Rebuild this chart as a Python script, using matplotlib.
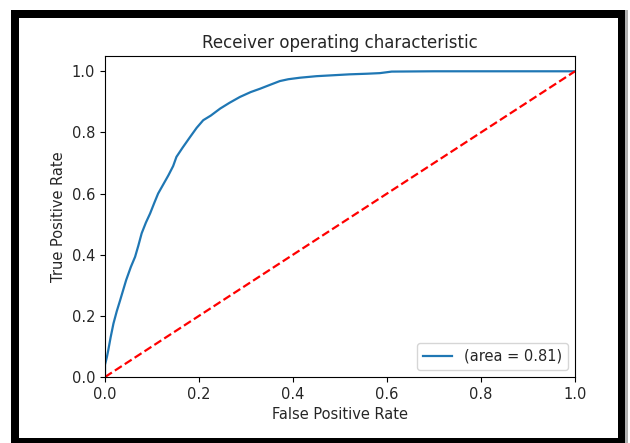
import matplotlib
matplotlib.use("Agg")
import matplotlib.pyplot as plt
from matplotlib.patches import Rectangle

# ROC curve points
fpr = [0.0, 0.0, 0.004, 0.007, 0.012, 0.018, 0.025, 0.032, 0.045, 0.055,
       0.064, 0.071, 0.078, 0.087, 0.096, 0.105, 0.113, 0.124, 0.135,
       0.145, 0.152, 0.165, 0.181, 0.195, 0.209, 0.225, 0.245, 0.265,
       0.287, 0.31, 0.33, 0.35, 0.372, 0.39, 0.415, 0.45, 0.485, 0.52,
       0.557, 0.585, 0.61, 0.7, 0.8, 0.9, 1.0]
tpr = [0.0, 0.04, 0.065, 0.088, 0.13, 0.175, 0.215, 0.25, 0.317, 0.36,
       0.393, 0.43, 0.47, 0.505, 0.535, 0.57, 0.60, 0.63, 0.66,
       0.69, 0.72, 0.75, 0.785, 0.815, 0.84, 0.855, 0.878, 0.897,
       0.916, 0.932, 0.943, 0.955, 0.968, 0.974, 0.979, 0.984, 0.987, 0.99,
       0.992, 0.994, 0.999, 1.0, 1.0, 1.0, 1.0]
roc_auc = 0.81

W, H = 630, 443
fig = plt.figure(figsize=(W / 100, H / 100), dpi=100)

# black screenshot frame
fig.add_artist(Rectangle((11 / W, 0), 614 / W, 433 / H, transform=fig.transFigure,
                         facecolor='black', edgecolor='none', zorder=0))
fig.add_artist(Rectangle((625 / W, 0), 3 / W, 433 / H, transform=fig.transFigure,
                         facecolor='#b0b0b0', edgecolor='none', zorder=0))
fig.add_artist(Rectangle((19 / W, 5 / H), 599 / W, 420 / H, transform=fig.transFigure,
                         facecolor='white', edgecolor='none', zorder=0))

txt = '#262626'
ax = fig.add_axes([105 / W, (H - 377) / H, 470 / W, 321 / H])
ax.plot(fpr, tpr, color='#1f77b4', lw=1.6, label='(area = %0.2f)' % roc_auc)
ax.plot([0, 1], [0, 1], 'r--', lw=1.6)
ax.set_xlim([0.0, 1.0])
ax.set_ylim([0.0, 1.05])
ax.set_xlabel('False Positive Rate', fontsize=10.5, color=txt)
ax.set_ylabel('True Positive Rate', fontsize=10.5, color=txt)
ax.set_title('Receiver operating characteristic', fontsize=12, color=txt)
ax.tick_params(labelsize=10.5, labelcolor=txt)
ax.legend(loc='lower right', fontsize=10.5, labelcolor=txt)

fig.savefig('out.png', dpi=100)
